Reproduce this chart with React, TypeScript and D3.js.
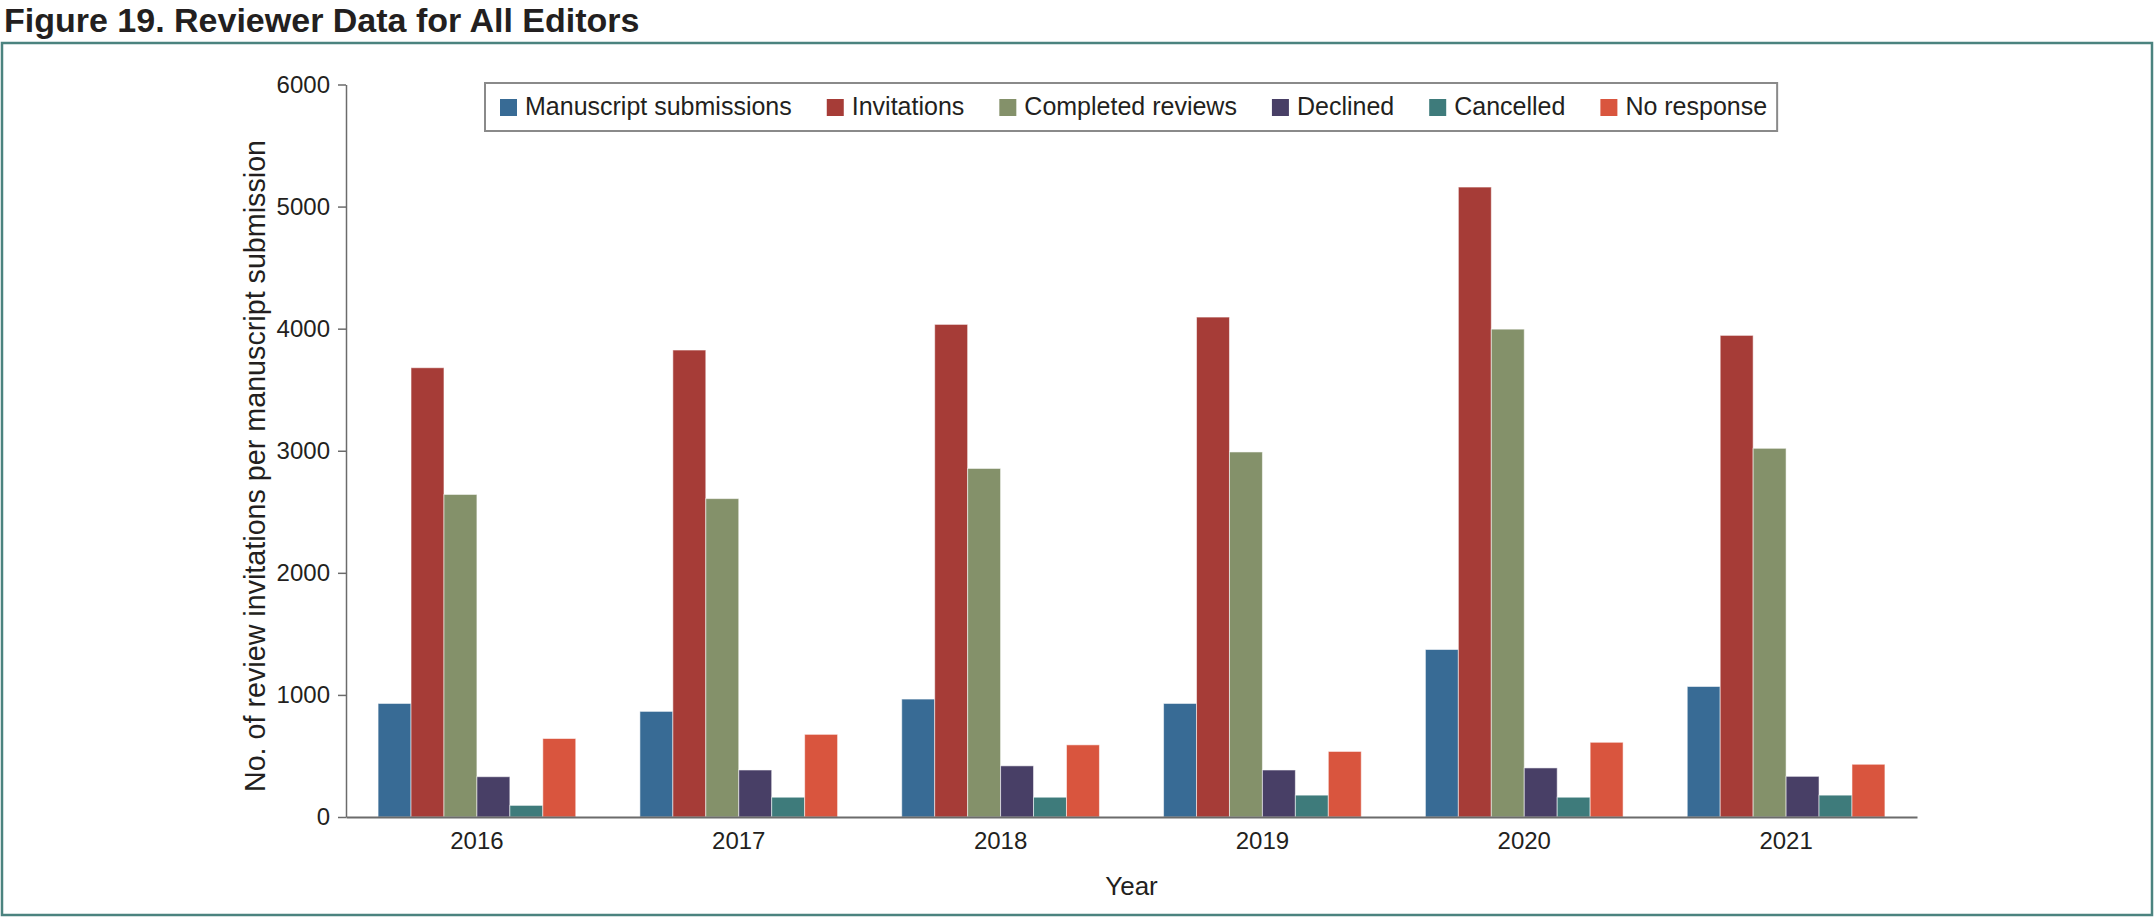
import * as React from "react";
import { select, scaleBand, scaleLinear, axisLeft, axisBottom } from "d3";

// data
const years = ["2016", "2017", "2018", "2019", "2020", "2021"];
const seriesNames = [
    "Manuscript submissions",
    "Invitations",
    "Completed reviews",
    "Declined",
    "Cancelled",
    "No response"
];
const manuscriptSubmissions = [930, 865, 966, 930, 1372, 1069];
const invitations = [3680, 3825, 4035, 4095, 5160, 3945];
const completedReviews = [2642, 2608, 2855, 2990, 3996, 3020];
const declined = [330, 385, 419, 385, 402, 333];
const cancelled = [95, 162, 162, 179, 162, 179];
const noResponse = [643, 677, 591, 537, 612, 432];
const yTicks = [0, 1000, 2000, 3000, 4000, 5000, 6000];

const colors = ["#386b95", "#a63c37", "#84916a", "#483f66", "#3e7b7b", "#d9553e"];

const FONT = "'Liberation Sans', Arial, Helvetica, sans-serif";
const TEXT = "#231f20";

function ReviewerChart() {
    const svgRef = React.useRef(null);

    React.useEffect(() => {
        const svg = select(svgRef.current);
        svg.selectAll("*").remove();

        const series = [manuscriptSubmissions, invitations, completedReviews, declined, cancelled, noResponse];
        const data = years.map((year, i) => ({
            year,
            values: seriesNames.map((key, k) => ({ key, value: series[k][i], color: colors[k] }))
        }));

        const left = 346, right = 1917, top = 84.5, bottom = 817;

        // frame + title
        svg.append("rect")
            .attr("x", 2).attr("y", 43)
            .attr("width", 2150).attr("height", 872)
            .attr("fill", "none")
            .attr("stroke", "#4b837f")
            .attr("stroke-width", 2.5);

        svg.append("text")
            .attr("x", 4).attr("y", 32)
            .attr("font-family", FONT)
            .attr("font-weight", "bold")
            .attr("font-size", 34)
            .attr("fill", TEXT)
            .text("Figure 19. Reviewer Data for All Editors");

        // scales
        const x0 = scaleBand()
            .domain(years)
            .range([left, right])
            .paddingInner(0.245)
            .paddingOuter(0.1225);
        const x1 = scaleBand()
            .domain(seriesNames)
            .range([0, x0.bandwidth()]);
        const y = scaleLinear()
            .domain([0, 6000])
            .range([bottom, top]);

        // bars
        svg.append("g")
            .selectAll("g")
            .data(data)
            .join("g")
            .attr("transform", d => `translate(${x0(d.year)},0)`)
            .selectAll("rect")
            .data(d => d.values)
            .join("rect")
            .attr("x", d => x1(d.key))
            .attr("width", x1.bandwidth())
            .attr("y", d => y(d.value))
            .attr("height", d => y(0) - y(d.value))
            .attr("fill", d => d.color)
            .attr("stroke", "rgba(255,255,255,0.55)")
            .attr("stroke-width", 1);

        // axes
        const yAxis = svg.append("g")
            .attr("transform", `translate(${left},0)`)
            .call(axisLeft(y).tickValues(yTicks).tickFormat(d => String(d)).tickSize(8).tickSizeOuter(0).tickPadding(8));
        yAxis.selectAll("path, line").attr("stroke", "#6b6b6b").attr("stroke-width", 1.5);
        yAxis.selectAll("text")
            .attr("font-family", FONT)
            .attr("font-size", 24)
            .attr("fill", TEXT);

        const xAxis = svg.append("g")
            .attr("transform", `translate(0,${bottom})`)
            .call(axisBottom(x0).tickSize(0).tickSizeOuter(0).tickPadding(15));
        xAxis.selectAll("path").attr("stroke", "#6b6b6b").attr("stroke-width", 2);
        xAxis.selectAll("text")
            .attr("font-family", FONT)
            .attr("font-size", 24)
            .attr("fill", TEXT);

        // axis titles
        svg.append("text")
            .attr("transform", "translate(265,466) rotate(-90)")
            .attr("text-anchor", "middle")
            .attr("font-family", FONT)
            .attr("font-size", 28.7)
            .attr("fill", TEXT)
            .text("No. of review invitations per manuscript submission");

        svg.append("text")
            .attr("x", (left + right) / 2)
            .attr("y", 895)
            .attr("text-anchor", "middle")
            .attr("font-family", FONT)
            .attr("font-size", 26)
            .attr("fill", TEXT)
            .text("Year");

        // legend
        const legend = svg.append("g");
        const box = legend.append("rect")
            .attr("x", 485).attr("y", 83)
            .attr("height", 48)
            .attr("fill", "#fff")
            .attr("stroke", "#8a8a8a")
            .attr("stroke-width", 2);
        let cursor = 500;
        seriesNames.forEach((name, k) => {
            legend.append("rect")
                .attr("x", cursor).attr("y", 99)
                .attr("width", 17).attr("height", 17)
                .attr("fill", colors[k]);
            const t = legend.append("text")
                .attr("x", cursor + 25).attr("y", 115)
                .attr("font-family", FONT)
                .attr("font-size", 25)
                .attr("fill", TEXT)
                .text(name);
            const w = t.node().getComputedTextLength();
            cursor += 25 + w + (k < seriesNames.length - 1 ? 35 : 0);
        });
        box.attr("width", cursor + 10 - 485);
    }, []);

    return (
        <svg
            ref={svgRef}
            width={2155}
            height={918}
            style={{ position: "absolute", left: 0, top: 0, background: "#fff" }}
        />
    );
}

export default function App() {
    return <ReviewerChart />;
}
